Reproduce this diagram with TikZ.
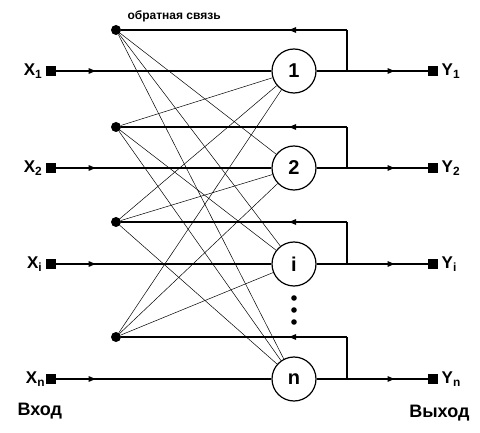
\documentclass[tikz,border=0pt]{standalone}
\usepackage{fontspec}
\setmainfont{Liberation Sans}
\usetikzlibrary{arrows.meta,decorations.markings}

\tikzset{
  pin/.style={rectangle, fill=black, draw=black, minimum size=9pt, inner sep=0pt},
  neuron/.style={circle, draw, line width=1.2pt, minimum size=44pt, inner sep=0pt, font=\fontsize{20}{20}\selectfont\bfseries},
  fbdot/.style={circle, fill=black, minimum size=10pt, inner sep=0pt},
  lab/.style={font=\fontsize{17}{17}\selectfont\bfseries, inner sep=1pt},
  arrowat/.style={postaction={decorate}, decoration={markings, mark=at position #1 with {\arrow{Triangle[length=7pt,width=5.5pt]}}}},
  main/.style={line width=1.3pt},
  cross/.style={line width=0.5pt}
}

\begin{document}
\begin{tikzpicture}[x=1pt, y=-1pt]
\useasboundingbox (0,0) rectangle (480,433);

%Inputs
\node[pin] (in1) at (51,71) {};
\node[pin] (in2) at (51,168) {};
\node[pin] (ini) at (51,264) {};
\node[pin] (inn) at (51,379) {};
\node[lab, anchor=east] at (in1.west) {X\textsubscript{1}\,};
\node[lab, anchor=east] at (in2.west) {X\textsubscript{2}\,};
\node[lab, anchor=east] at (ini.west) {X\textsubscript{i}\,};
\node[lab, anchor=east] at (inn.west) {X\textsubscript{n}};

%Neurons
\node[neuron] (n1) at (294,71) {1};
\node[neuron] (n2) at (294,168) {2};
\node[neuron] (ni) at (294,264) {i};
\node[neuron] (nn) at (294,379) {n};

%Dots between i and n
\foreach \y in {298,310,322} \fill (294,\y) circle (2.8pt);

%Outputs
\node[pin] (out1) at (433,71) {};
\node[pin] (out2) at (433,168) {};
\node[pin] (outi) at (433,264) {};
\node[pin] (outn) at (433,379) {};
\node[lab, anchor=west] at (out1.east) {\,Y\textsubscript{1}};
\node[lab, anchor=west] at (out2.east) {\,Y\textsubscript{2}};
\node[lab, anchor=west] at (outi.east) {\,Y\textsubscript{i}};
\node[lab, anchor=west] at (outn.east) {\,Y\textsubscript{n}};

%Feedback points
\node[fbdot] (fb1) at (116,30) {};
\node[fbdot] (fb2) at (116,127) {};
\node[fbdot] (fbi) at (116,222) {};
\node[fbdot] (fbn) at (116,337) {};
\node[font=\fontsize{12}{12}\selectfont\bfseries, anchor=west] (fblab) at (124,16) {обратная связь};

%Junctions
\coordinate (j1) at (347,71);   \coordinate (t1) at (347,30);
\coordinate (j2) at (347,168);  \coordinate (t2) at (347,127);
\coordinate (ji) at (347,264);  \coordinate (ti) at (347,222);
\coordinate (jn) at (347,379);  \coordinate (tn) at (347,337);

%Input lines
\draw[main, arrowat=40pt] (in1) -- (n1);
\draw[main, arrowat=40pt] (in2) -- (n2);
\draw[main, arrowat=40pt] (ini) -- (ni);
\draw[main, arrowat=40pt] (inn) -- (nn);

%Output lines
\draw[main, arrowat=78pt] (n1) -- (out1);
\draw[main, arrowat=78pt] (n2) -- (out2);
\draw[main, arrowat=78pt] (ni) -- (outi);
\draw[main, arrowat=78pt] (nn) -- (outn);

%Feedback
\draw[main] (j1) -- (t1);
\draw[main] (j2) -- (t2);
\draw[main] (ji) -- (ti);
\draw[main] (jn) -- (tn);
\draw[main, arrowat=58pt] (t1) -- (fb1);
\draw[main, arrowat=58pt] (t2) -- (fb2);
\draw[main, arrowat=58pt] (ti) -- (fbi);
\draw[main, arrowat=58pt] (tn) -- (fbn);

%Cross connections
\foreach \a/\b in {fb1/n2, fb1/ni, fb1/nn, fb2/n1, fb2/ni, fb2/nn,
                   fbi/n1, fbi/n2, fbi/nn, fbn/n1, fbn/n2, fbn/ni}
  \draw[cross] (\a) -- (\b);

%Captions
\node[font=\fontsize{18}{18}\selectfont\bfseries, anchor=west] (inlab) at (14,411) {Вход};
\node[font=\fontsize{18}{18}\selectfont\bfseries, anchor=east] (outlab) at (473,413) {Выход};

\end{tikzpicture}
\end{document}
